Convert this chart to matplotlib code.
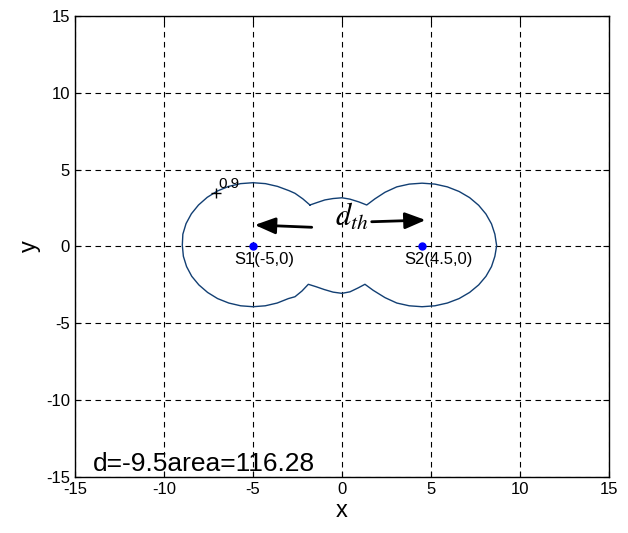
import matplotlib
matplotlib.use('Agg')
import matplotlib.pyplot as plt

plt.rcParams['font.family'] = ['Liberation Sans', 'DejaVu Sans']
plt.rcParams['axes.unicode_minus'] = False

# sensors
sensor_x = [-5, 4.5]
sensor_y = [0, 0]
sensor_labels = ['S1(-5,0)', 'S2(4.5,0)']

# 0.9 contour outline (counterclockwise from left notch top)
contour_x = [-1.80, -2.20, -2.64, -2.97, -3.62, -4.30, -5.00, -5.70, -6.37, -7.00,
             -7.57, -8.06, -8.46, -8.76, -8.94, -8.97, -8.91, -8.73, -8.44, -8.04,
             -7.55, -6.99, -6.36, -5.69, -5.00, -4.31, -3.64, -3.01, -2.64, -2.25,
             -1.89, -1.45, -1.00, -0.50, 0.00, 0.45, 0.90, 1.29, 1.75, 2.42,
             3.08, 3.78, 4.50, 5.22, 5.92, 6.58, 7.17, 7.68, 8.09, 8.40,
             8.59, 8.69, 8.59, 8.40, 8.09, 7.68, 7.17, 6.58, 5.92, 5.22,
             4.50, 3.78, 3.08, 2.42, 1.85, 1.39, 0.95, 0.45, 0.00, -0.50,
             -0.96, -1.40, -1.80]
contour_y = [2.70, 3.10, 3.46, 3.63, 3.91, 4.09, 4.15, 4.09, 3.91, 3.61,
             3.20, 2.70, 2.13, 1.49, 0.80, 0.08, -0.64, -1.31, -1.94, -2.50,
             -2.99, -3.39, -3.68, -3.86, -3.92, -3.86, -3.68, -3.39, -3.27, -2.90,
             -2.46, -2.62, -2.80, -2.97, -3.05, -2.95, -2.70, -2.46, -2.85, -3.33,
             -3.68, -3.86, -3.92, -3.86, -3.68, -3.39, -2.99, -2.50, -1.94, -1.31,
             -0.64, 0.05, 0.80, 1.47, 2.11, 2.68, 3.18, 3.58, 3.88, 4.06,
             4.12, 4.06, 3.88, 3.53, 3.10, 2.70, 2.90, 3.08, 3.17, 3.12,
             3.03, 2.86, 2.70]

label_pt = (-7.1, 3.5)
level = '0.9'
info = 'd=-9.5area=116.28'
ticks = [-15, -10, -5, 0, 5, 10, 15]

fig = plt.figure(figsize=(6.28, 5.33), dpi=100)
ax = fig.add_axes([0.1194, 0.1051, 0.8503, 0.8649])

ax.plot(contour_x, contour_y, color='#123f73', lw=1.0)
ax.plot(label_pt[0], label_pt[1], marker='+', color='black', ms=7, mew=1)
ax.text(label_pt[0] + 0.15, label_pt[1] + 0.1, level, fontsize=11, va='bottom', ha='left')

ax.plot(sensor_x, sensor_y, 'o', color='blue', ms=5, mec='blue')
ax.text(sensor_x[0] - 1.05, -0.85, sensor_labels[0], fontsize=12, va='center', ha='left')
ax.text(sensor_x[1] - 1.0, -0.85, sensor_labels[1], fontsize=12, va='center', ha='left')

arrow_style = dict(arrowstyle='-|>,head_length=1.25,head_width=0.5', color='black', lw=2, shrinkA=0, shrinkB=0)
ax.annotate('', xy=(-4.9, 1.40), xytext=(-1.7, 1.25), arrowprops=arrow_style)
ax.annotate('', xy=(4.7, 1.72), xytext=(1.67, 1.61), arrowprops=arrow_style)
ax.text(0.55, 1.9, r'$d_{th}$', fontsize=22, math_fontfamily='stix', ha='center', va='center')

ax.text(-14.0, -14.6, info, fontsize=19, ha='left', va='baseline')

ax.set_xlim(-15, 15)
ax.set_ylim(-15, 15)
ax.set_xticks(ticks)
ax.set_yticks(ticks)
ax.tick_params(direction='in', top=True, right=True, length=4, labelsize=12, width=0.8)
ax.grid(True, color='black', linestyle=(0, (5, 4)), lw=0.8)
for s in ax.spines.values():
    s.set_linewidth(1.0)
ax.set_xlabel('x', fontsize=17, labelpad=2)
ax.set_ylabel('y', fontsize=17, labelpad=4)

fig.savefig('out.png', dpi=100)
